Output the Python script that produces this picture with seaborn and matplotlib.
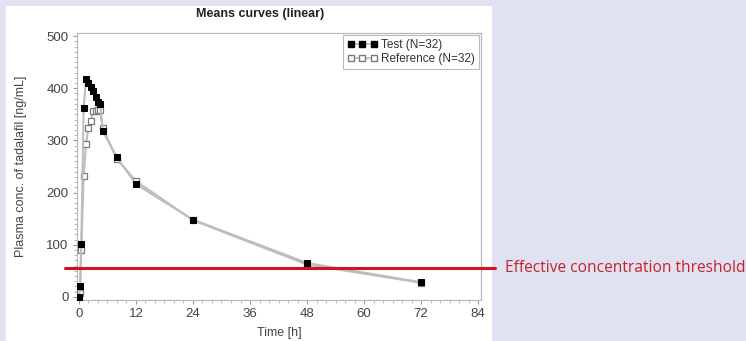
import matplotlib
matplotlib.use("Agg")
import matplotlib.pyplot as plt
from matplotlib.lines import Line2D
from matplotlib.patches import Rectangle
from matplotlib.ticker import MultipleLocator
import seaborn as sns
import pandas as pd

time_h = [0, 0.25, 0.5, 1, 1.5, 2, 2.5, 3, 3.5, 4, 4.5, 5, 8, 12, 24, 48, 72]
test_conc = [0, 20, 101, 363, 418, 410, 403, 394, 383, 374, 369, 318, 268, 216, 148, 65, 28]
ref_conc = [0, 8, 90, 232, 294, 324, 337, 356, 357, 358, 358, 323, 264, 222, 147, 62, 27]
threshold = 55
x_ticks = [0, 12, 24, 36, 48, 60, 72, 84]
y_ticks = [0, 100, 200, 300, 400, 500]

df = pd.DataFrame({"time": time_h, "test": test_conc, "ref": ref_conc})

sns.set_style("white")
plt.rcParams["font.family"] = ["Liberation Sans", "DejaVu Sans"]

W, H = 746, 341
fig = plt.figure(figsize=(W / 100, H / 100), dpi=100)
fig.patch.set_facecolor("#e0e2f2")
fig.patches.append(Rectangle((6 / W, 0), (492 - 6) / W, (H - 6) / H,
                             transform=fig.transFigure, facecolor="white",
                             edgecolor="none", zorder=-5))

ax = fig.add_axes([77 / W, 1 - 300 / H, (481 - 77) / W, (300 - 33) / H])
ax.set_zorder(2)
ax.set_facecolor("white")

line_col = "#bdbdbd"
sns.lineplot(data=df, x="time", y="ref", ax=ax, color=line_col, lw=1.5,
             marker="s", markersize=4.2, markerfacecolor="white",
             markeredgecolor="#7a7a7a", markeredgewidth=0.9, zorder=3)
sns.lineplot(data=df, x="time", y="test", ax=ax, color=line_col, lw=1.5,
             marker="s", markersize=4.5, markerfacecolor="black",
             markeredgecolor="black", zorder=4)

ax.set_xlim(-0.4, 84.6)
ax.set_ylim(-6, 506)
ax.set_xticks(x_ticks)
ax.set_yticks(y_ticks)
ax.xaxis.set_minor_locator(MultipleLocator(2))
ax.yaxis.set_minor_locator(MultipleLocator(10))
ax.tick_params(which="major", direction="out", length=3, width=0.8, color="#999999",
               labelsize=9.5, labelcolor="#444444", pad=3)
ax.tick_params(which="minor", direction="out", length=2, width=0.6, color="#aaaaaa")
ax.tick_params(axis="both", which="both", bottom=True, left=True)
for s in ax.spines.values():
    s.set_color("#b8b8b8")
    s.set_linewidth(0.9)

ax.set_xlabel("Time [h]", fontsize=9, color="#444444", labelpad=5)
ax.set_ylabel("Plasma conc. of tadalafil [ng/mL]", fontsize=9, color="#444444", labelpad=14)
fig.text(260 / W, 1 - 14 / H, "Means curves (linear)", fontsize=9, fontweight="bold",
         color="#222222", ha="center", va="center")

handles = [
    Line2D([], [], color=line_col, lw=1.2, marker="s", markersize=5,
           markerfacecolor="black", markeredgecolor="black"),
    Line2D([], [], color=line_col, lw=1.2, marker="s", markersize=4.5,
           markerfacecolor="white", markeredgecolor="#7a7a7a"),
]
leg = ax.legend(handles, ["Test (N=32)", "Reference (N=32)"], loc="upper right",
                numpoints=3, handlelength=2.6, handletextpad=0.3, fontsize=8.5,
                frameon=True, fancybox=False, borderaxespad=0.15, borderpad=0.35,
                labelspacing=0.2)
leg.get_frame().set_edgecolor("#aaaaaa")
leg.get_frame().set_linewidth(0.8)
for t in leg.get_texts():
    t.set_color("#333333")

red = "#d0141e"
ax.plot([-2.9, 87.6], [threshold, threshold], color=red, lw=2.2, clip_on=False, zorder=5)
fig.text(505 / W, 1 - 268 / H, "Effective concentration threshold", color="#c8202a",
         fontsize=11.2, family=["Open Sans", "DejaVu Sans"], va="center", ha="left")

fig.savefig("out.png", dpi=100, facecolor=fig.get_facecolor())
